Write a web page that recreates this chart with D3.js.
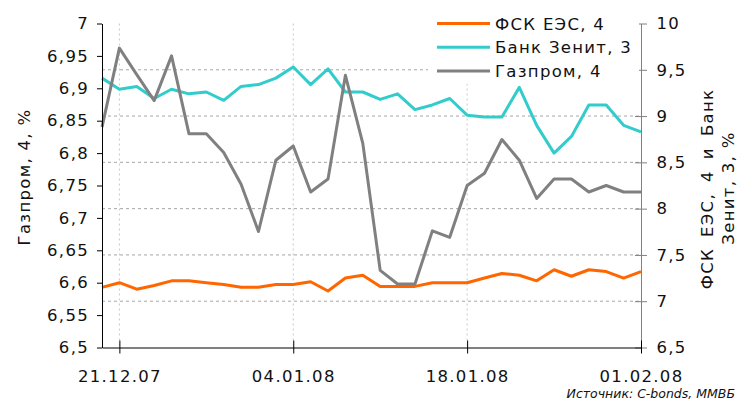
<!DOCTYPE html>
<html>
<head>
<meta charset="utf-8">
<script src="https://cdn.jsdelivr.net/npm/d3@7"></script>
<style>
  body { margin: 0; background: #fff; }
  svg text { font-family: "DejaVu Sans", Verdana, sans-serif; fill: #111; }
</style>
</head>
<body>
<div id="chart"></div>
<script>
const dates = ["20.12.07","21.12.07","24.12.07","25.12.07","26.12.07","27.12.07","28.12.07","29.12.07",
  "31.12.07","02.01.08","03.01.08","04.01.08","05.01.08","08.01.08","09.01.08","10.01.08",
  "11.01.08","14.01.08","15.01.08","16.01.08","17.01.08","18.01.08","21.01.08","22.01.08",
  "23.01.08","24.01.08","25.01.08","28.01.08","29.01.08","30.01.08","31.01.08","01.02.08"];
const dateTicks = ["21.12.07", "04.01.08", "18.01.08", "01.02.08"];

const fsk = [7.15,7.2,7.13,7.17,7.22,7.22,7.2,7.18,7.15,7.15,7.18,7.18,7.21,7.11,7.25,7.28,
  7.16,7.16,7.16,7.2,7.2,7.2,7.25,7.3,7.28,7.22,7.34,7.27,7.34,7.32,7.25,7.32];
const zenit = [9.41,9.29,9.32,9.19,9.29,9.24,9.26,9.17,9.32,9.34,9.41,9.53,9.34,9.51,9.26,9.26,
  9.18,9.24,9.07,9.12,9.19,9.01,8.99,8.99,9.31,8.9,8.6,8.78,9.12,9.12,8.9,8.83];
const gazprom = [6.84,6.962,6.921,6.881,6.95,6.83,6.83,6.801,6.752,6.679,6.789,6.811,6.74,6.76,6.92,6.815,
  6.619,6.598,6.598,6.68,6.67,6.75,6.769,6.821,6.789,6.73,6.76,6.76,6.74,6.75,6.74,6.74];

const leftTicks = [6.5,6.55,6.6,6.65,6.7,6.75,6.8,6.85,6.9,6.95,7];
const rightTicks = [6.5,7,7.5,8,8.5,9,9.5,10];

const seriesNames = ["ФСК ЕЭС, 4", "Банк Зенит, 3", "Газпром, 4"];
const seriesColors = ["#ff6600", "#33cccc", "#808080"];

const width = 739, height = 401;
const fs = "16.5px", ls = "1.3px";
const comma = d => String(d).replace(".", ",");

const svg = d3.select("#chart").append("svg")
    .attr("width", width).attr("height", height);

const x = d3.scalePoint().domain(dates).range([102, 641]);
const yL = d3.scaleLinear().domain([6.5, 7]).range([347.5, 23.5]);
const yR = d3.scaleLinear().domain([6.5, 10]).range([347.5, 23.5]);

// grid
svg.append("g").selectAll("line")
    .data(rightTicks.filter(d => d > 6.5 && d < 10))
    .join("line")
    .attr("x1", 102).attr("x2", 641)
    .attr("y1", d => yR(d)).attr("y2", d => yR(d))
    .attr("stroke", "#a6a6a6").attr("stroke-dasharray", "3,3");

svg.append("g").selectAll("line")
    .data(dateTicks.slice(0, -1))
    .join("line")
    .attr("x1", d => x(d)).attr("x2", d => x(d))
    .attr("y1", 23.5).attr("y2", 347.5)
    .attr("stroke", "#c8c8c8").attr("stroke-dasharray", "2,3");

// lines
const lineR = d3.line().x((d, i) => x(dates[i])).y(d => yR(d));
const lineL = d3.line().x((d, i) => x(dates[i])).y(d => yL(d));

[[fsk, lineR], [zenit, lineR], [gazprom, lineL]].forEach(([vals, gen], i) => {
    svg.append("path")
        .datum(vals)
        .attr("d", gen)
        .attr("fill", "none")
        .attr("stroke", seriesColors[i])
        .attr("stroke-width", 3)
        .attr("stroke-linejoin", "round");
});

// axes
const gl = svg.append("g").attr("transform", "translate(102,0)")
    .call(d3.axisLeft(yL).tickValues(leftTicks).tickFormat(comma).tickSizeInner(5).tickSizeOuter(0));
gl.select(".domain").attr("stroke", "#000");
gl.selectAll("text").attr("x", -13).attr("font-size", fs).attr("letter-spacing", ls);

const gr = svg.append("g").attr("transform", "translate(641,0)")
    .call(d3.axisRight(yR).tickValues(rightTicks).tickFormat(comma).tickSizeInner(5).tickSizeOuter(0));
gr.select(".domain").attr("stroke", "#808080");
gr.selectAll(".tick line").attr("x1", -6).attr("x2", 6).attr("stroke", "#808080");
gr.selectAll("text").attr("x", 15.5).attr("font-size", fs).attr("letter-spacing", ls);

const gb = svg.append("g").attr("transform", "translate(0,347.5)")
    .call(d3.axisBottom(x).tickValues(dateTicks).tickSizeInner(6).tickSizeOuter(0));
gb.select(".domain").attr("stroke", "#000");
gb.selectAll(".tick line").attr("y1", -7).attr("y2", 6);
gb.selectAll("text").attr("y", 22.5).attr("font-size", fs).attr("letter-spacing", ls);
svg.selectAll(".tick text").attr("font-family", "DejaVu Sans").attr("fill", "#111");

// axis titles
svg.append("text")
    .attr("transform", "translate(30,177) rotate(-90)")
    .attr("text-anchor", "middle")
    .attr("font-size", fs).attr("letter-spacing", ls)
    .text("Газпром, 4, %");

svg.append("text")
    .attr("transform", "translate(712.5,189) rotate(-90)")
    .attr("text-anchor", "middle")
    .attr("font-size", fs).attr("letter-spacing", ls).attr("word-spacing", "4.5px")
    .text("ФСК ЕЭС, 4 и Банк");

svg.append("text")
    .attr("transform", "translate(733.5,188) rotate(-90)")
    .attr("text-anchor", "middle")
    .attr("font-size", fs).attr("letter-spacing", ls)
    .text("Зенит, 3, %");

// legend
const lg = svg.append("g");
lg.append("rect").attr("x", 428).attr("y", 10).attr("width", 211).attr("height", 74).attr("fill", "#fff");
seriesNames.forEach((name, i) => {
    const yy = 23.5 + i * 23.8;
    lg.append("line")
        .attr("x1", 437).attr("x2", 490).attr("y1", yy).attr("y2", yy)
        .attr("stroke", seriesColors[i]).attr("stroke-width", 3);
    lg.append("text")
        .attr("x", 495).attr("y", yy + 6)
        .attr("font-size", fs).attr("letter-spacing", ls)
        .text(name);
});

// source
svg.append("text")
    .attr("x", 735).attr("y", 397.5)
    .attr("text-anchor", "end")
    .attr("font-size", "12.5px").attr("font-style", "italic")
    .text("Источник: C-bonds, ММВБ");
</script>
</body>
</html>
